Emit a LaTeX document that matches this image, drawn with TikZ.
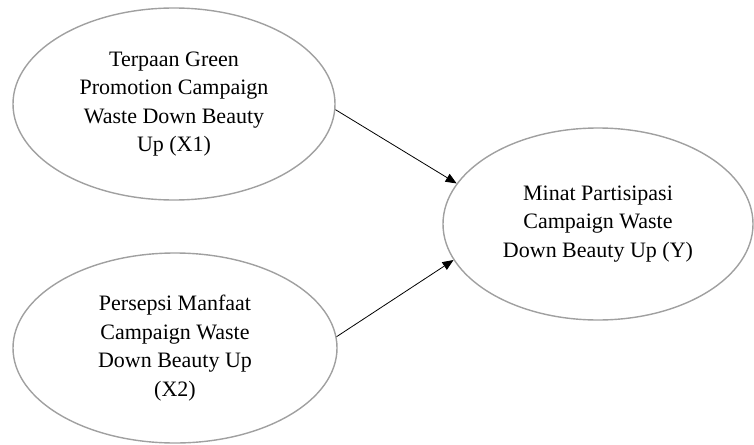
\documentclass[tikz,border=0pt]{standalone}
\usepackage{fontspec}
\setmainfont{Liberation Serif}
\usetikzlibrary{shapes.geometric,arrows.meta}
\definecolor{ringgray}{RGB}{160,160,160}
\begin{document}
\begin{tikzpicture}[x=1pt,y=-1pt,
  var/.style={ellipse,draw=ringgray,line width=1.4pt,inner sep=0pt,align=center,
    font=\fontsize{22}{28.5}\selectfont,text=black},
  link/.style={draw=black,line width=0.8pt,-{Triangle[length=11pt,width=9pt]}}]
\useasboundingbox (0,0) rectangle (754,444);
\node[var,minimum width=322pt,minimum height=192pt] (x1) at (174,104)
  {Terpaan Green\\Promotion Campaign\\Waste Down Beauty\\Up (X1)};
\node[var,minimum width=324pt,minimum height=190pt] (x2) at (175,348)
  {Persepsi Manfaat\\Campaign Waste\\Down Beauty Up\\(X2)};
\node[var,minimum width=310pt,minimum height=192pt] (y) at (598,224)
  {Minat Partisipasi\\Campaign Waste\\Down Beauty Up (Y)};
\draw[link] (x1.-2) -- (y.164);
\draw[link] (x2.4) -- (y.194);
\end{tikzpicture}
\end{document}
